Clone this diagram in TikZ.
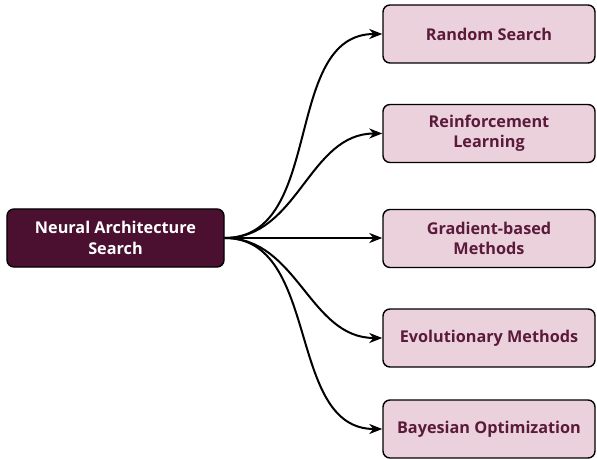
\documentclass[tikz,border=0pt]{standalone}
\usepackage{fontspec}
\setmainfont{Open Sans}
\usetikzlibrary{arrows.meta}
\definecolor{rootfill}{HTML}{4B1030}
\definecolor{leaffill}{HTML}{EBD1DC}
\definecolor{leaftext}{HTML}{5A1A3A}
\tikzset{
  boxfont/.style={font=\fontsize{16.3}{20.5}\selectfont\bfseries},
  rootbox/.style={draw=black, line width=1.4bp, rounded corners=7bp, fill=rootfill, text=white, boxfont, align=center, minimum width=217bp, minimum height=58bp, inner sep=0pt},
  leafbox/.style={draw=black, line width=1.4bp, rounded corners=7bp, fill=leaffill, text=leaftext, boxfont, align=center, minimum width=212bp, minimum height=58bp, inner sep=0pt},
  conn/.style={draw=black, line width=2bp, -{Stealth[length=13bp,width=10bp,inset=4bp]}},
}
\begin{document}
\begin{tikzpicture}[x=1bp,y=-1bp]
\useasboundingbox (0,0) rectangle (597,459);
\node[rootbox] (nas) at (115.5,238) {Neural Architecture\\Search};
\node[leafbox] (rs) at (489,34) {Random Search};
\node[leafbox] (rl) at (489,133.5) {Reinforcement\\Learning};
\node[leafbox] (gb) at (489,238.5) {Gradient-based\\Methods};
\node[leafbox] (em) at (489,338) {Evolutionary Methods};
\node[leafbox] (bo) at (489,429) {Bayesian Optimization};
\draw[conn] (nas.east) to[out=0,in=180] (rs.west);
\draw[conn] (nas.east) to[out=0,in=180] (rl.west);
\draw[conn] (nas.east) -- (gb.west |- nas.east);
\draw[conn] (nas.east) to[out=0,in=180] (em.west);
\draw[conn] (nas.east) to[out=0,in=180] (bo.west);
\end{tikzpicture}
\end{document}
